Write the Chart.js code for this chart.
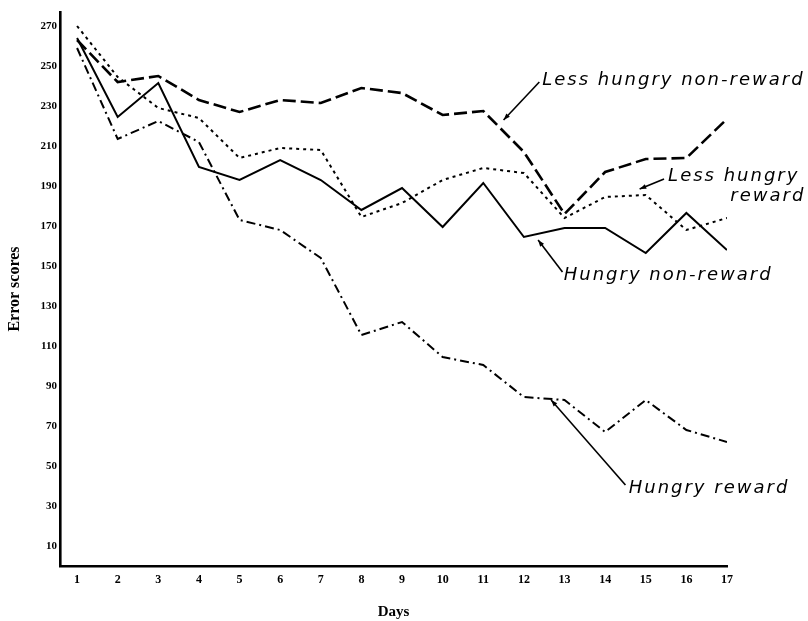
<!DOCTYPE html>
<html lang="en">
<head>
  <meta charset="UTF-8">
  <title>Error scores by day</title>
  <script src="https://cdn.jsdelivr.net/npm/chart.js"></script>
  <style>
    html, body {
      margin: 0;
      padding: 0;
      background: #ffffff;
      overflow: hidden;
    }
    .wrap {
      width: 808px;
      height: 621px;
      position: relative;
    }
  </style>
</head>
<body>
<div class="wrap">
  <canvas id="chart"></canvas>
</div>

<script>
  // days 1..17
  const days = [1, 2, 3, 4, 5, 6, 7, 8, 9, 10, 11, 12, 13, 14, 15, 16, 17];

  // error scores
  const lessHungryNonReward = [263, 242, 245, 233, 227, 233, 231.5, 239, 236.5, 225.5, 227.5, 207, 176, 197, 203.5, 204, 223.5];
  const lessHungryReward    = [270, 244.5, 229, 224, 204, 209, 208, 174.5, 181.5, 193, 199, 196.5, 174, 184.5, 185.5, 168, 174];
  const hungryNonReward     = [264, 224.5, 241.5, 199.5, 193, 203, 193, 178, 189, 169.5, 191.5, 164.5, 169, 169, 156.5, 176.5, 158];
  const hungryReward        = [259, 213.5, 222.5, 212, 173, 168, 154, 115.5, 122, 104.5, 100.5, 84.5, 83, 67, 83, 68, 62];

  const yTicks = [10, 30, 50, 70, 90, 110, 130, 150, 170, 190, 210, 230, 250, 270];

  // curve labels: text anchor and leader line, in data units (day, score)
  const curveLabels = [
    { lines: ['Less hungry non-reward'], day: 12.45, val: 243, from: [12.38, 242], to: [11.5, 223] },
    { lines: ['Less hungry', 'reward'], day: 15.55, val: 195, from: [15.45, 193.5], to: [14.85, 188.5] },
    { lines: ['Hungry non-reward'], day: 12.98, val: 145.5, from: [12.95, 147], to: [12.35, 163] },
    { lines: ['Hungry reward'], day: 14.58, val: 39, from: [14.5, 40.5], to: [12.67, 83] }
  ];

  const toPoints = arr => arr.map((v, i) => ({ x: days[i], y: v }));

  const labelPlugin = {
    id: 'curveLabels',
    afterDraw(chart) {
      const ctx = chart.ctx;
      const xs = chart.scales.x;
      const ys = chart.scales.y;
      ctx.save();
      ctx.strokeStyle = '#000';
      ctx.fillStyle = '#000';
      ctx.lineWidth = 1.6;
      ctx.font = 'italic 18px "DejaVu Sans"';
      ctx.letterSpacing = '2px';
      ctx.textBaseline = 'middle';
      curveLabels.forEach(l => {
        const fx = xs.getPixelForValue(l.from[0]), fy = ys.getPixelForValue(l.from[1]);
        const tx = xs.getPixelForValue(l.to[0]), ty = ys.getPixelForValue(l.to[1]);
        ctx.beginPath();
        ctx.moveTo(fx, fy);
        ctx.lineTo(tx, ty);
        ctx.stroke();
        // small arrow head
        const a = Math.atan2(ty - fy, tx - fx);
        ctx.beginPath();
        ctx.moveTo(tx, ty);
        ctx.lineTo(tx - 7 * Math.cos(a - 0.35), ty - 7 * Math.sin(a - 0.35));
        ctx.lineTo(tx - 7 * Math.cos(a + 0.35), ty - 7 * Math.sin(a + 0.35));
        ctx.closePath();
        ctx.fill();

        const x0 = xs.getPixelForValue(l.day);
        const y0 = ys.getPixelForValue(l.val);
        ctx.textAlign = 'left';
        ctx.fillText(l.lines[0], x0, y0);
        if (l.lines.length > 1) {
          const w = ctx.measureText(l.lines[0]).width;
          ctx.textAlign = 'right';
          ctx.fillText(l.lines[1], x0 + w + 6, y0 + 20);
        }
      });
      ctx.restore();
    }
  };

  const base = {
    borderColor: '#000',
    backgroundColor: '#000',
    pointRadius: 0,
    fill: false,
    tension: 0
  };

  new Chart(document.getElementById('chart'), {
    type: 'line',
    data: {
      datasets: [
        Object.assign({}, base, { label: 'Less hungry non-reward', data: toPoints(lessHungryNonReward), borderWidth: 2.6, borderDash: [13, 5] }),
        Object.assign({}, base, { label: 'Less hungry reward', data: toPoints(lessHungryReward), borderWidth: 2, borderDash: [3, 4] }),
        Object.assign({}, base, { label: 'Hungry non-reward', data: toPoints(hungryNonReward), borderWidth: 2 }),
        Object.assign({}, base, { label: 'Hungry reward', data: toPoints(hungryReward), borderWidth: 2, borderDash: [9, 4, 2, 4] })
      ]
    },
    options: {
      responsive: true,
      maintainAspectRatio: false,
      animation: false,
      layout: { padding: { top: 12, right: 81, left: 0, bottom: 0 } },
      plugins: {
        legend: { display: false },
        tooltip: { enabled: false }
      },
      scales: {
        x: {
          type: 'linear',
          min: 0.58,
          max: 17,
          afterBuildTicks: axis => { axis.ticks = days.map(d => ({ value: d })); },
          afterFit: axis => { axis.height = 55; },
          grid: { display: false, drawTicks: false },
          border: { color: '#000', width: 2.6 },
          ticks: {
            color: '#000',
            padding: 7,
            maxRotation: 0,
            font: { family: '"Liberation Serif"', size: 12, weight: 'bold' }
          },
          title: {
            display: true,
            text: 'Days',
            color: '#000',
            padding: { top: 0, bottom: 0 },
            font: { family: '"Liberation Serif"', size: 15, weight: 'bold' }
          }
        },
        y: {
          min: 0,
          max: 277,
          afterBuildTicks: axis => { axis.ticks = yTicks.map(v => ({ value: v })); },
          afterFit: axis => { axis.width = 60; },
          grid: { display: false, drawTicks: false },
          border: { color: '#000', width: 2.6 },
          ticks: {
            color: '#000',
            padding: 3,
            font: { family: '"Liberation Serif"', size: 11, weight: 'bold' }
          },
          title: {
            display: true,
            text: 'Error scores',
            color: '#000',
            padding: { top: 5, bottom: 0 },
            font: { family: '"Liberation Serif"', size: 16, weight: 'bold' }
          }
        }
      }
    },
    plugins: [labelPlugin]
  });
</script>
</body>
</html>
